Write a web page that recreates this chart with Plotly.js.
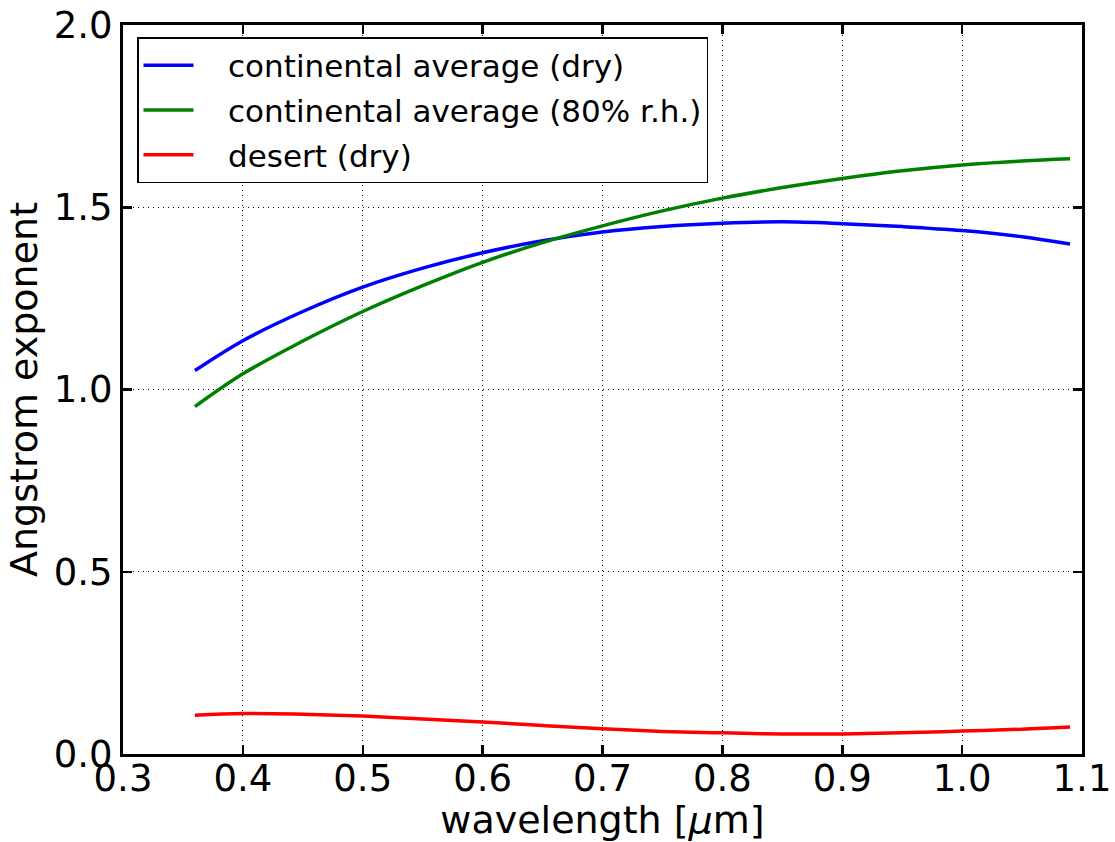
<!DOCTYPE html>
<html>
<head>
<meta charset="utf-8">
<script src="https://cdn.plot.ly/plotly-3.0.1.min.js"></script>
<style>html,body{margin:0;padding:0;background:#fff;}#chart{width:1115px;height:842px;}</style>
</head>
<body>
<div id="chart"></div>
<script>
const wavelength = [0.36, 0.40, 0.45, 0.50, 0.55, 0.60, 0.65, 0.70, 0.75, 0.80, 0.85, 0.90, 0.95, 1.00, 1.05, 1.09];
const continentalDry = [1.052, 1.134, 1.214, 1.281, 1.333, 1.375, 1.408, 1.432, 1.447, 1.456, 1.460, 1.455, 1.447, 1.436, 1.419, 1.399];
const continental80 = [0.953, 1.043, 1.133, 1.214, 1.285, 1.349, 1.403, 1.449, 1.490, 1.525, 1.554, 1.579, 1.600, 1.616, 1.627, 1.633];
const desertDry = [0.106, 0.111, 0.109, 0.104, 0.096, 0.088, 0.078, 0.069, 0.062, 0.058, 0.055, 0.055, 0.058, 0.063, 0.068, 0.074];
const seriesNames = ["continental average (dry)", "continental average (80% r.h.)", "desert (dry)"];
const xTicks = [0.3, 0.4, 0.5, 0.6, 0.7, 0.8, 0.9, 1.0, 1.1];
const yTicks = [0.0, 0.5, 1.0, 1.5, 2.0];

const colors = ["#0000ff", "#008000", "#ff0000"];
const ys = [continentalDry, continental80, desertDry];
const traces = ys.map((y, i) => ({
  x: wavelength, y: y, type: "scatter", mode: "lines",
  name: "\u00a0\u00a0\u00a0" + seriesNames[i], legendgroup: "g" + i,
  line: {color: colors[i], width: 3.5, shape: "spline", smoothing: 1}
}));

const font = {family: "DejaVu Sans, sans-serif", color: "#000"};
const axisCommon = {
  showline: true, linecolor: "#000", linewidth: 3, mirror: "allticks",
  ticks: "inside", ticklen: 9, tickwidth: 2.5, tickcolor: "#000",
  showgrid: true, gridcolor: "#000", gridwidth: 1, griddash: "1px,4px",
  zeroline: false, tickfont: Object.assign({size: 37}, font)
};
const layout = {
  width: 1115, height: 842,
  margin: {l: 123, r: 33, t: 25, b: 88},
  paper_bgcolor: "#fff", plot_bgcolor: "#fff",
  font: font,
  showlegend: true,
  xaxis: Object.assign({}, axisCommon, {
    range: [0.3, 1.1], tickvals: xTicks, ticktext: xTicks.map(v => v.toFixed(1)),
    ticklabelstandoff: -10,
    title: {text: "wavelength [<i>μ</i>m]", font: Object.assign({size: 38}, font), standoff: 9}
  }),
  yaxis: Object.assign({}, axisCommon, {
    range: [0, 2], tickvals: yTicks, ticktext: yTicks.map(v => v.toFixed(1)),
    title: {text: "Angstrom exponent", font: Object.assign({size: 38}, font), standoff: 5}
  }),
  legend: {
    x: 0.0146, y: 0.9835, xanchor: "left", yanchor: "top",
    bgcolor: "#fff", bordercolor: "#000", borderwidth: 1.5,
    font: Object.assign({size: 31}, font),
    itemwidth: 50,
    traceorder: "grouped", tracegroupgap: 1.5
  }
};
Plotly.newPlot("chart", traces, layout, {displayModeBar: false, staticPlot: true});
</script>
</body>
</html>
